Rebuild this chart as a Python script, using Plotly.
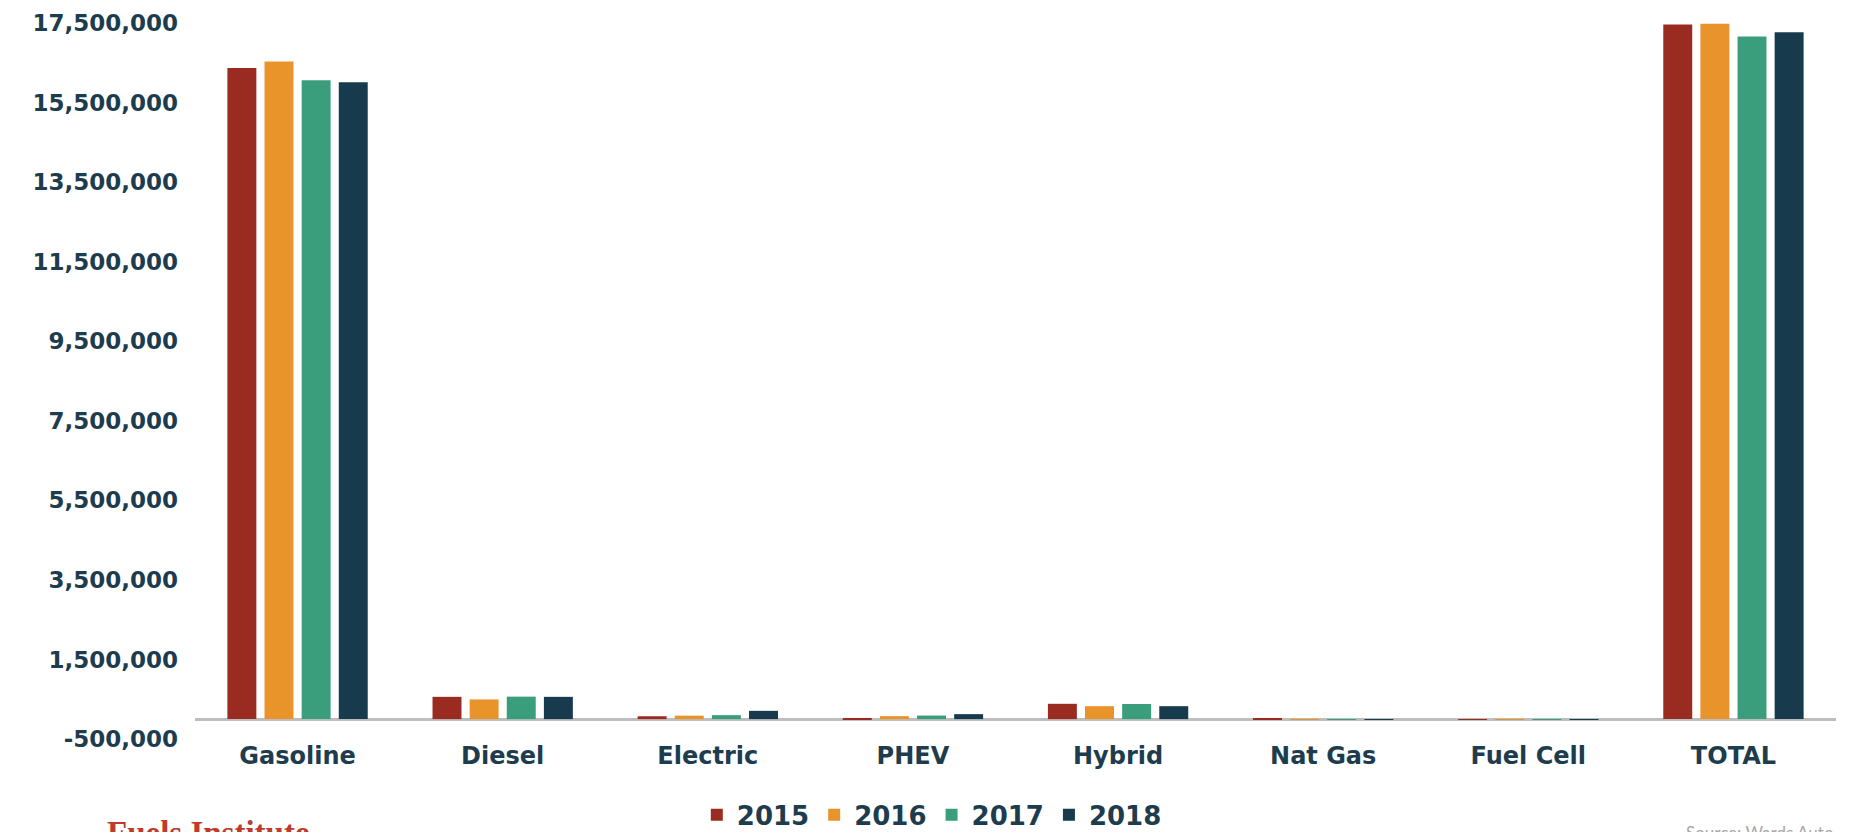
import plotly.graph_objects as go

categories = ["Gasoline", "Diesel", "Electric", "PHEV", "Hybrid", "Nat Gas", "Fuel Cell", "TOTAL"]
years = ["2015", "2016", "2017", "2018"]

sales_2015 = [16370000, 560000, 72000, 5000, 385000, 3000, 1000, 17460000]
sales_2016 = [16530000, 495000, 87000, 75000, 325000, 2500, 1500, 17480000]
sales_2017 = [16060000, 565000, 100000, 90000, 380000, 2000, 2300, 17160000]
sales_2018 = [16010000, 560000, 208000, 125000, 325000, 1500, 2500, 17270000]

y_tickvals = [-500000, 1500000, 3500000, 5500000, 7500000, 9500000, 11500000, 13500000, 15500000, 17500000]
y_ticktext = ["-500,000", "1,500,000", "3,500,000", "5,500,000", "7,500,000", "9,500,000",
              "11,500,000", "13,500,000", "15,500,000", "17,500,000"]

colors = ["#9a2b21", "#e8942a", "#3a9e7c", "#173a4c"]
text_color = "#1d3c4e"

series = [sales_2015, sales_2016, sales_2017, sales_2018]

fig = go.Figure()
for name, vals, col in zip(years, series, colors):
    fig.add_trace(go.Bar(x=categories, y=vals, name=name, marker=dict(color=col, line=dict(width=0))))

fig.update_layout(
    width=1851, height=832,
    paper_bgcolor="white", plot_bgcolor="white",
    margin=dict(l=195, r=15, t=23, b=93, autoexpand=False),
    barmode="group", bargap=0.276, bargroupgap=0.22,
    font=dict(family="DejaVu Sans", color=text_color),
    showlegend=True,
    legend=dict(orientation="h", x=0.449, xanchor="center", y=-0.106, yanchor="middle",
                font=dict(family="DejaVu Sans", size=26, color=text_color, weight="bold"),
                traceorder="normal", itemwidth=30),
    xaxis=dict(showgrid=False, showline=False, ticks="", zeroline=False,
               tickfont=dict(family="DejaVu Sans", size=24, color=text_color, weight="bold")),
    yaxis=dict(range=[-500000, 17500000], tickvals=y_tickvals, ticktext=y_ticktext,
               showgrid=False, showline=False, ticks="",
               zeroline=True, zerolinecolor="#bdbdbd", zerolinewidth=3,
               ticklabelstandoff=16,
               tickfont=dict(family="DejaVu Sans", size=23, color=text_color, weight="bold")),
    annotations=[
        dict(text="Fuels Institute", xref="paper", yref="paper", x=-0.055, y=-0.104,
             xanchor="left", yanchor="top", showarrow=False,
             font=dict(family="Liberation Serif", size=33, color="#c0392b", weight="bold")),
        dict(text="Source: Wards Auto", xref="paper", yref="paper", x=1.0, y=-0.113,
             xanchor="right", yanchor="top", showarrow=False,
             font=dict(family="Lato", size=17, color="#a8a8a8")),
    ],
)

fig.write_html("out.html", config={"displayModeBar": False},
               post_script="document.body.style.margin='0';document.body.style.overflow='hidden';")
